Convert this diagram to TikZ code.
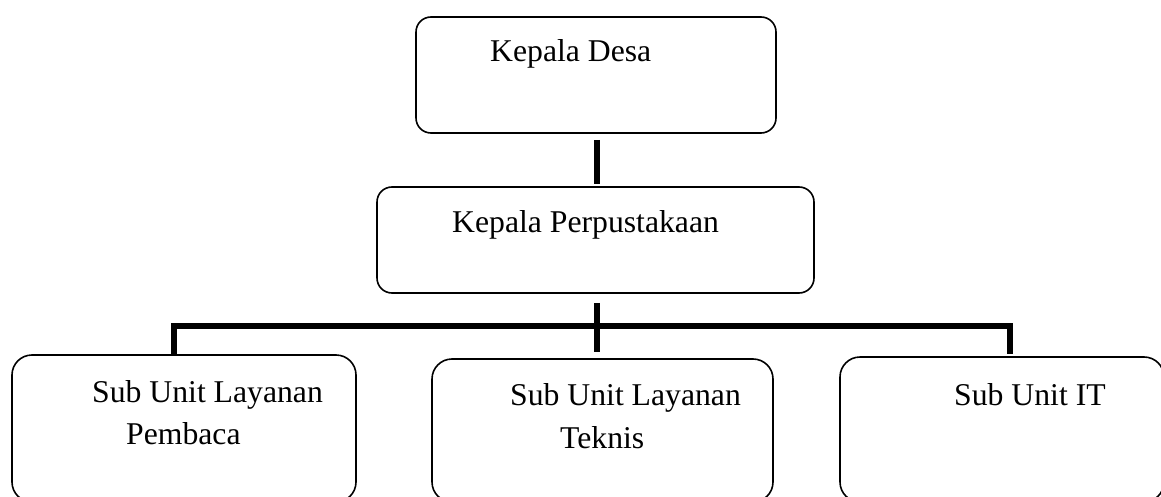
\documentclass[tikz,border=0pt]{standalone}
\usepackage{fontspec}
\setmainfont{Liberation Serif}
\begin{document}
\begin{tikzpicture}[x=1pt,y=-1pt,
  box/.style={draw=black,line width=1.6pt,rounded corners=15pt,inner sep=0pt},
  lbl/.style={inner sep=0pt,anchor=base west,font=\fontsize{31.7}{38}\selectfont},
  conn/.style={draw=black,line width=6pt}]
\useasboundingbox (0,0) rectangle (1161,497);
\clip (0,0) rectangle (1161,497);
\node[box,minimum width=360pt,minimum height=116pt] (kd) at (596,75) {};
\node[box,minimum width=437pt,minimum height=106pt] (kp) at (595.5,240) {};
\node[box,rounded corners=20pt,minimum width=344pt,minimum height=147pt] (b1) at (184,428.5) {};
\node[box,rounded corners=20pt,minimum width=341pt,minimum height=143pt] (b2) at (602.5,430.5) {};
\node[box,rounded corners=20pt,minimum width=324pt,minimum height=145pt] (b3) at (1002,429.5) {};
\node[lbl] (tkd) at (490,62) {Kepala Desa};
\node[lbl] (tkp) at (452,232) {Kepala Perpustakaan};
\node[lbl] (tb1a) at (92,402) {Sub Unit Layanan};
\node[lbl] (tb1b) at (126,444) {Pembaca};
\node[lbl] (tb2a) at (510,405) {Sub Unit Layanan};
\node[lbl] (tb2b) at (560,448) {Teknis};
\node[lbl] (tb3) at (954,405) {Sub Unit IT};
\coordinate (up) at (597,133);
\coordinate (bc) at (597,326);
\coordinate (bl) at (174,326);
\coordinate (br) at (1010,326);
\draw[conn,shorten <=7pt,shorten >=2pt] (up) -- (up |- kp.north);
\draw[conn,shorten >=6pt] (bc |- kp.south) ++(0,9) -- (bc |- b2.north);
\draw[conn,shorten >=2pt] (bl |- b1.north) -- (bl) -- (br) -- (br |- b3.north);
\end{tikzpicture}
\end{document}
